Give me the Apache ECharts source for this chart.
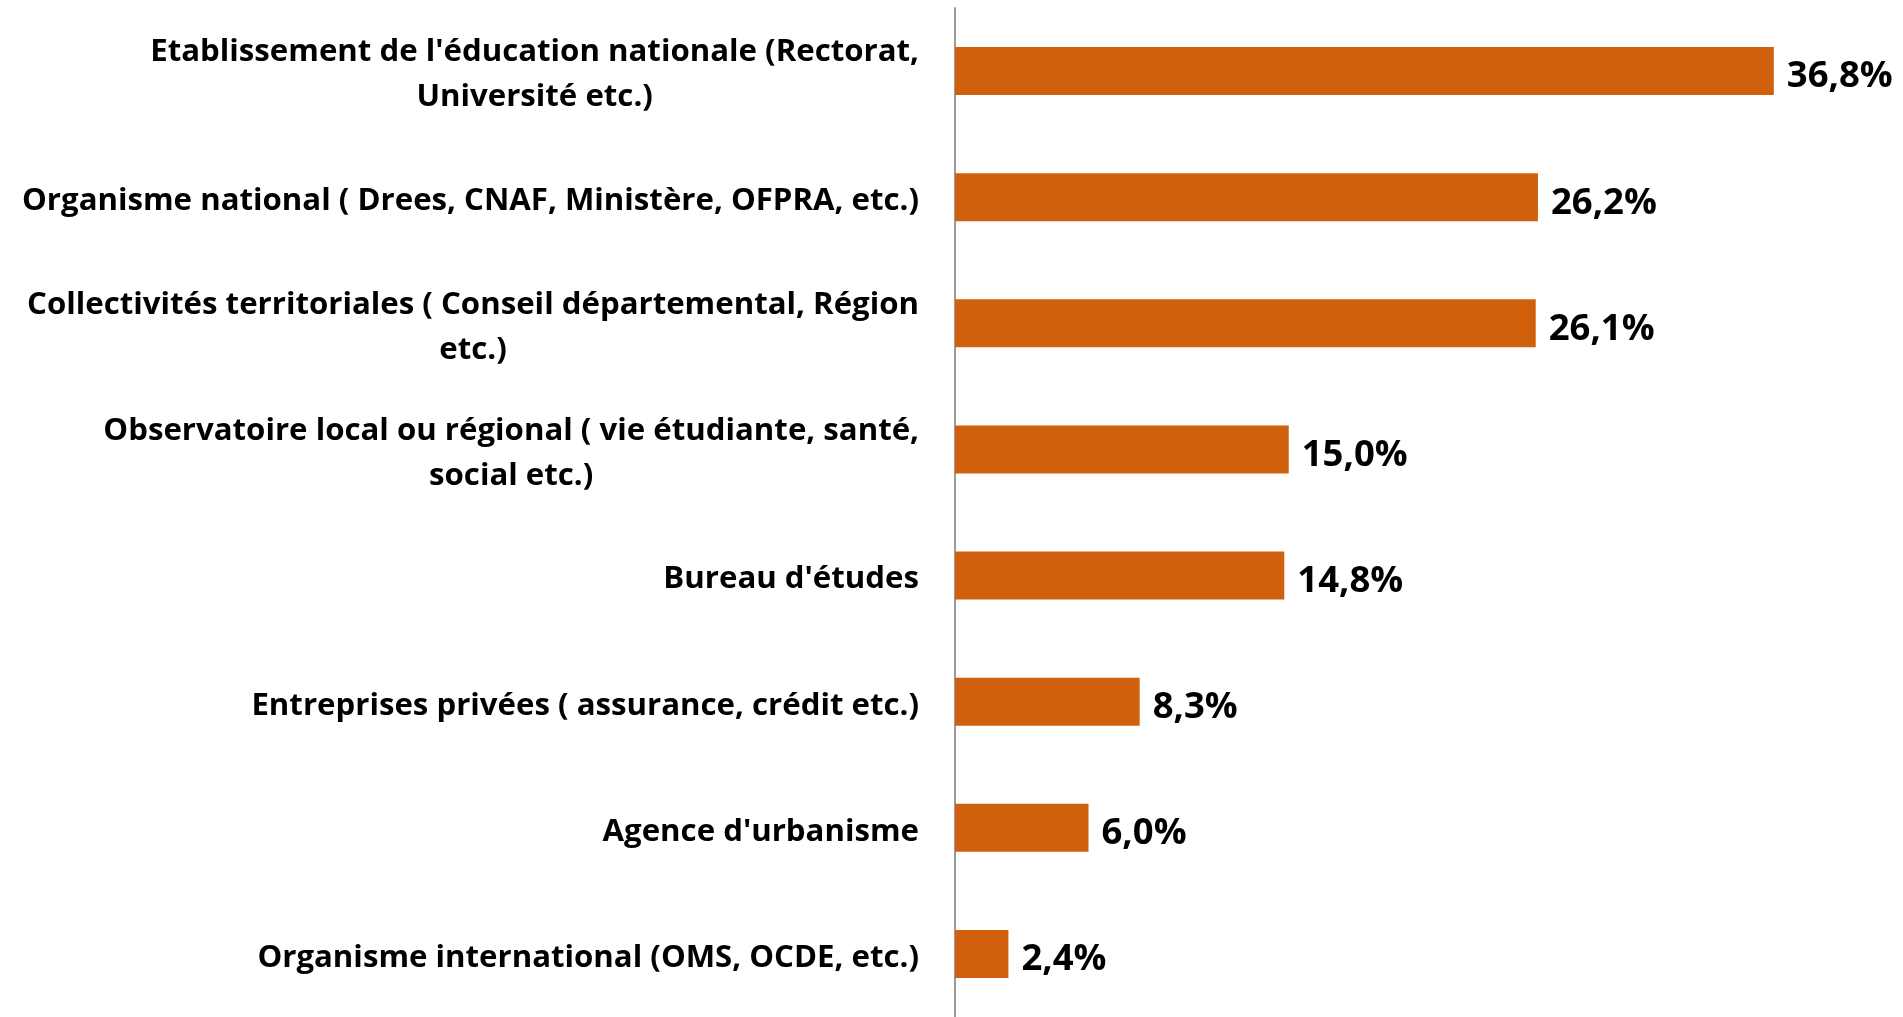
<!DOCTYPE html>
<html>
<head>
<meta charset="utf-8">
<script src="https://cdn.jsdelivr.net/npm/echarts@6/dist/echarts.min.js"></script>
<style>
html,body{margin:0;padding:0;background:#fff;}
#c{width:1903px;height:1017px;}
</style>
</head>
<body>
<div id="c"></div>
<script>
const categories = [
  "Etablissement de l'éducation nationale (Rectorat,\nUniversité etc.)",
  "Organisme national ( Drees, CNAF, Ministère, OFPRA, etc.)",
  "Collectivités territoriales ( Conseil départemental, Région\netc.)",
  "Observatoire local ou régional ( vie étudiante, santé,\nsocial etc.)",
  "Bureau d'études",
  "Entreprises privées ( assurance, crédit etc.)",
  "Agence d'urbanisme",
  "Organisme international (OMS, OCDE, etc.)"
];
const values = [36.8, 26.2, 26.1, 15.0, 14.8, 8.3, 6.0, 2.4];

const FONT = 'Open Sans';
const chart = echarts.init(document.getElementById('c'));
chart.setOption({
  backgroundColor: '#ffffff',
  animation: false,
  grid: { left: 955, right: 58, top: 8, bottom: -5, containLabel: false },
  xAxis: {
    type: 'value', min: 0, max: 40,
    show: false, splitLine: { show: false }
  },
  yAxis: {
    type: 'category', data: categories, inverse: true,
    axisLine: { show: true, lineStyle: { color: '#9a9a9a', width: 2 } },
    axisTick: { show: false },
    axisLabel: {
      margin: 36, align: 'right', padding: [8, 0, 0, 0],
      fontFamily: FONT, fontWeight: 'bold', fontSize: 31.2,
      color: '#000', lineHeight: 45,
      formatter: v => v.split('\n').map(s => '{c|' + s + '}').join('\n'),
      rich: {
        c: { align: 'center', fontFamily: FONT, fontWeight: 'bold', fontSize: 31.2, color: '#000', lineHeight: 45 }
      }
    }
  },
  series: [{
    type: 'bar', data: values, barWidth: 48,
    itemStyle: { color: '#D1600D' },
    label: {
      show: true, position: 'right', distance: 13, offset: [0, 6],
      fontFamily: FONT, fontWeight: 'bold', fontSize: 36.5, color: '#000',
      formatter: p => p.value.toFixed(1).replace('.', ',') + '%'
    }
  }]
});
</script>
</body>
</html>
